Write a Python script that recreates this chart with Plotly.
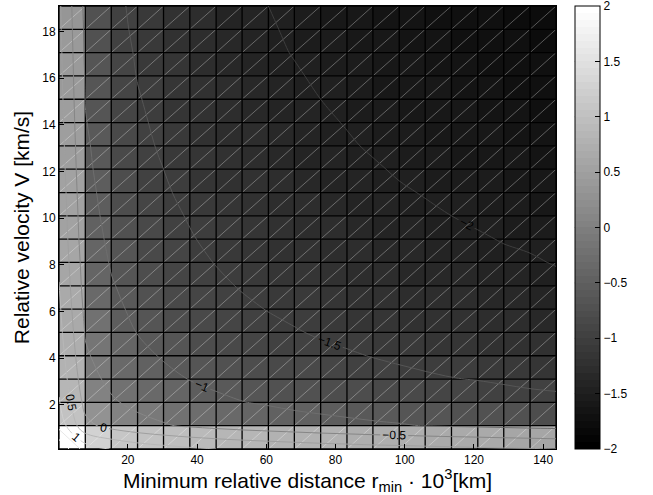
import plotly.graph_objects as go

# Grid nodes: minimum relative distance (10^3 km) and relative velocity (km/s)
r_min = [0.1, 7.7, 15.2, 22.8, 30.3, 37.9, 45.5, 53.0, 60.6, 68.1,
         75.7, 83.3, 90.8, 98.4, 105.9, 113.5, 121.1, 128.6, 136.2, 143.7]
velocity = [0.1, 1.1, 2.1, 3.1, 4.1, 5.1, 6.1, 7.1, 8.1, 9.1,
            10.1, 11.1, 12.1, 13.1, 14.1, 15.1, 16.1, 17.1, 18.1, 19.1]

# Face values of the faceted surface (one per cell, rows = velocity)
shade = [
    [2.00, 1.25, 1.10, 1.02, 0.96, 0.91, 0.87, 0.84, 0.81, 0.78, 0.76, 0.74, 0.72, 0.70, 0.68, 0.66, 0.64, 0.62, 0.60],
    [1.00, 0.25, 0.03, -0.11, -0.21, -0.29, -0.35, -0.41, -0.46, -0.50, -0.54, -0.58, -0.61, -0.64, -0.67, -0.69, -0.72, -0.74, -0.76],
    [0.85, 0.05, -0.19, -0.33, -0.43, -0.52, -0.58, -0.64, -0.69, -0.73, -0.77, -0.81, -0.84, -0.87, -0.89, -0.92, -0.94, -0.97, -0.99],
    [0.78, -0.07, -0.32, -0.47, -0.58, -0.66, -0.73, -0.78, -0.83, -0.87, -0.91, -0.95, -0.98, -1.01, -1.04, -1.06, -1.09, -1.11, -1.13],
    [0.72, -0.17, -0.43, -0.57, -0.68, -0.76, -0.83, -0.89, -0.94, -0.98, -1.02, -1.05, -1.08, -1.11, -1.14, -1.17, -1.19, -1.21, -1.23],
    [0.68, -0.25, -0.51, -0.66, -0.76, -0.84, -0.91, -0.97, -1.02, -1.06, -1.10, -1.13, -1.17, -1.20, -1.22, -1.25, -1.27, -1.29, -1.32],
    [0.64, -0.32, -0.57, -0.72, -0.83, -0.91, -0.98, -1.03, -1.08, -1.12, -1.16, -1.20, -1.23, -1.26, -1.29, -1.31, -1.34, -1.36, -1.38],
    [0.61, -0.38, -0.63, -0.78, -0.88, -0.96, -1.03, -1.09, -1.14, -1.18, -1.22, -1.26, -1.29, -1.32, -1.34, -1.37, -1.39, -1.42, -1.44],
    [0.58, -0.42, -0.68, -0.83, -0.93, -1.01, -1.08, -1.14, -1.19, -1.23, -1.27, -1.30, -1.34, -1.37, -1.39, -1.42, -1.44, -1.46, -1.49],
    [0.55, -0.47, -0.72, -0.87, -0.97, -1.06, -1.12, -1.18, -1.23, -1.27, -1.31, -1.35, -1.38, -1.41, -1.44, -1.46, -1.49, -1.51, -1.53],
    [0.53, -0.51, -0.76, -0.91, -1.01, -1.09, -1.16, -1.22, -1.27, -1.31, -1.35, -1.39, -1.42, -1.45, -1.47, -1.50, -1.52, -1.55, -1.57],
    [0.50, -0.54, -0.79, -0.94, -1.05, -1.13, -1.20, -1.25, -1.30, -1.35, -1.38, -1.42, -1.45, -1.48, -1.51, -1.53, -1.56, -1.58, -1.60],
    [0.48, -0.57, -0.83, -0.97, -1.08, -1.16, -1.23, -1.29, -1.34, -1.38, -1.42, -1.45, -1.48, -1.51, -1.54, -1.57, -1.59, -1.61, -1.63],
    [0.46, -0.60, -0.85, -1.00, -1.11, -1.19, -1.26, -1.31, -1.36, -1.41, -1.45, -1.48, -1.51, -1.54, -1.57, -1.60, -1.62, -1.64, -1.66],
    [0.44, -0.63, -0.88, -1.03, -1.14, -1.22, -1.29, -1.34, -1.39, -1.43, -1.47, -1.51, -1.54, -1.57, -1.60, -1.62, -1.65, -1.67, -1.69],
    [0.42, -0.65, -0.91, -1.06, -1.16, -1.24, -1.31, -1.37, -1.42, -1.46, -1.50, -1.53, -1.57, -1.60, -1.62, -1.65, -1.67, -1.69, -1.72],
    [0.40, -0.68, -0.93, -1.08, -1.18, -1.27, -1.33, -1.39, -1.44, -1.48, -1.52, -1.56, -1.59, -1.62, -1.65, -1.67, -1.70, -1.72, -1.74],
    [0.38, -0.70, -0.95, -1.10, -1.21, -1.29, -1.36, -1.41, -1.46, -1.51, -1.54, -1.58, -1.61, -1.64, -1.67, -1.69, -1.72, -1.74, -1.76],
    [0.36, -0.72, -0.97, -1.12, -1.23, -1.31, -1.38, -1.43, -1.48, -1.53, -1.57, -1.60, -1.63, -1.66, -1.69, -1.72, -1.74, -1.76, -1.78],
]

# Node values for the labelled iso-lines (rows = velocity, cols = r_min)
level_field = [
    [2.46, 1.27, 0.98, 0.80, 0.68, 0.58, 0.50, 0.44, 0.38, 0.33, 0.28, 0.24, 0.20, 0.17, 0.14, 0.11, 0.08, 0.05, 0.03, 0.00],
    [1.32, 0.13, -0.16, -0.34, -0.46, -0.56, -0.64, -0.71, -0.76, -0.81, -0.86, -0.90, -0.94, -0.97, -1.01, -1.04, -1.06, -1.09, -1.12, -1.14],
    [1.04, -0.15, -0.44, -0.62, -0.74, -0.84, -0.92, -0.99, -1.04, -1.10, -1.14, -1.18, -1.22, -1.26, -1.29, -1.32, -1.35, -1.37, -1.40, -1.42],
    [0.87, -0.32, -0.61, -0.79, -0.91, -1.01, -1.09, -1.16, -1.21, -1.26, -1.31, -1.35, -1.39, -1.42, -1.46, -1.49, -1.51, -1.54, -1.57, -1.59],
    [0.75, -0.44, -0.74, -0.91, -1.03, -1.13, -1.21, -1.28, -1.34, -1.39, -1.43, -1.47, -1.51, -1.55, -1.58, -1.61, -1.64, -1.66, -1.69, -1.71],
    [0.65, -0.53, -0.83, -1.01, -1.13, -1.23, -1.31, -1.37, -1.43, -1.48, -1.53, -1.57, -1.61, -1.64, -1.67, -1.70, -1.73, -1.76, -1.78, -1.81],
    [0.58, -0.61, -0.91, -1.08, -1.21, -1.30, -1.38, -1.45, -1.51, -1.56, -1.60, -1.65, -1.68, -1.72, -1.75, -1.78, -1.81, -1.83, -1.86, -1.88],
    [0.51, -0.68, -0.97, -1.15, -1.27, -1.37, -1.45, -1.52, -1.57, -1.62, -1.67, -1.71, -1.75, -1.78, -1.82, -1.85, -1.87, -1.90, -1.93, -1.95],
    [0.45, -0.73, -1.03, -1.21, -1.33, -1.43, -1.51, -1.57, -1.63, -1.68, -1.73, -1.77, -1.81, -1.84, -1.87, -1.90, -1.93, -1.96, -1.98, -2.01],
    [0.40, -0.79, -1.08, -1.26, -1.38, -1.48, -1.56, -1.62, -1.68, -1.73, -1.78, -1.82, -1.86, -1.89, -1.92, -1.95, -1.98, -2.01, -2.03, -2.06],
    [0.36, -0.83, -1.13, -1.30, -1.43, -1.52, -1.60, -1.67, -1.73, -1.78, -1.82, -1.87, -1.90, -1.94, -1.97, -2.00, -2.03, -2.05, -2.08, -2.10],
    [0.32, -0.87, -1.17, -1.34, -1.47, -1.56, -1.64, -1.71, -1.77, -1.82, -1.86, -1.91, -1.94, -1.98, -2.01, -2.04, -2.07, -2.09, -2.12, -2.14],
    [0.28, -0.91, -1.21, -1.38, -1.50, -1.60, -1.68, -1.75, -1.81, -1.86, -1.90, -1.94, -1.98, -2.02, -2.05, -2.08, -2.11, -2.13, -2.16, -2.18],
    [0.24, -0.94, -1.24, -1.42, -1.54, -1.64, -1.72, -1.78, -1.84, -1.89, -1.94, -1.98, -2.02, -2.05, -2.08, -2.11, -2.14, -2.17, -2.19, -2.21],
    [0.21, -0.98, -1.27, -1.45, -1.57, -1.67, -1.75, -1.81, -1.87, -1.92, -1.97, -2.01, -2.05, -2.08, -2.11, -2.14, -2.17, -2.20, -2.22, -2.25],
    [0.18, -1.01, -1.30, -1.48, -1.60, -1.70, -1.78, -1.84, -1.90, -1.95, -2.00, -2.04, -2.08, -2.11, -2.14, -2.17, -2.20, -2.23, -2.25, -2.28],
    [0.15, -1.03, -1.33, -1.51, -1.63, -1.73, -1.81, -1.87, -1.93, -1.98, -2.03, -2.07, -2.11, -2.14, -2.17, -2.20, -2.23, -2.26, -2.28, -2.30],
    [0.13, -1.06, -1.36, -1.53, -1.65, -1.75, -1.83, -1.90, -1.96, -2.01, -2.05, -2.09, -2.13, -2.17, -2.20, -2.23, -2.26, -2.28, -2.31, -2.33],
    [0.10, -1.08, -1.38, -1.56, -1.68, -1.78, -1.86, -1.92, -1.98, -2.03, -2.08, -2.12, -2.16, -2.19, -2.22, -2.25, -2.28, -2.31, -2.33, -2.36],
    [0.08, -1.11, -1.40, -1.58, -1.70, -1.80, -1.88, -1.95, -2.00, -2.05, -2.10, -2.14, -2.18, -2.21, -2.25, -2.28, -2.30, -2.33, -2.36, -2.38],
]

x_ticks = [20, 40, 60, 80, 100, 120, 140]
y_ticks = [2, 4, 6, 8, 10, 12, 14, 16, 18]
cbar_ticks = [-2, -1.5, -1, -0.5, 0, 0.5, 1, 1.5, 2]
c_min, c_max, c_step = -2, 2, 0.5

FONT = "Liberation Sans, Arial, Helvetica, sans-serif"

# 64-step gray colormap
n_col = 64
gray64 = []
for k in range(n_col):
    g = round(255 * k / (n_col - 1))
    c = f"rgb({g},{g},{g})"
    gray64 += [[k / n_col, c], [(k + 1) / n_col, c]]

# iso-lines use a lifted gray ramp so they stay visible on the facets
line_gray = [[0, "rgb(62,62,62)"], [1, "rgb(255,255,255)"]]

CB_X = 1.038      # colorbar left edge, paper fraction of plot width
CB_THICK = 25     # px
M_L, M_R, M_T, M_B = 59, 97, 6, 46
PLOT_W = 653 - M_L - M_R

fig = go.Figure()

fig.add_trace(go.Heatmap(
    x=r_min, y=velocity, z=shade,
    zmin=c_min, zmax=c_max, colorscale=gray64,
    hoverinfo="skip",
    colorbar=dict(
        x=CB_X, xanchor="left", y=0.5, yanchor="middle",
        len=1, lenmode="fraction", thickness=CB_THICK, thicknessmode="pixels",
        xpad=0, ypad=0, outlinecolor="black", outlinewidth=1,
        tickmode="array", tickvals=cbar_ticks,
        ticks="inside", ticklen=5, tickcolor="black",
        ticklabeloverflow="allow",
        tickfont=dict(family=FONT, size=12, color="black"),
    ),
))

# triangle edges of each facet
dxs, dys = [], []
for i in range(len(velocity) - 1):
    for j in range(len(r_min) - 1):
        dxs += [r_min[j], r_min[j + 1], None]
        dys += [velocity[i], velocity[i + 1], None]
fig.add_trace(go.Scatter(
    x=dxs, y=dys, mode="lines", hoverinfo="skip", showlegend=False,
    line=dict(color="rgba(255,255,255,0.45)", width=0.7),
))

# facet mesh
gxs, gys = [], []
for xv in r_min:
    gxs += [xv, xv, None]
    gys += [velocity[0], velocity[-1], None]
for yv in velocity:
    gxs += [r_min[0], r_min[-1], None]
    gys += [yv, yv, None]
fig.add_trace(go.Scatter(
    x=gxs, y=gys, mode="lines", hoverinfo="skip", showlegend=False,
    line=dict(color="black", width=1.3),
))

# labelled iso-lines, on an overlaid subplot so they sit above the mesh
fig.add_trace(go.Contour(
    x=r_min, y=velocity, z=level_field,
    xaxis="x2", yaxis="y2",
    zmin=c_min, zmax=c_max, colorscale=line_gray, showscale=False,
    contours=dict(coloring="lines", start=c_min, end=c_max, size=c_step,
                  showlabels=True,
                  labelfont=dict(family=FONT, size=12, color="black")),
    line=dict(width=1),
    hoverinfo="skip",
))

# tick marks on the left inner edge of the colorbar
for v in cbar_ticks[1:-1]:
    yf = (v - c_min) / (c_max - c_min)
    fig.add_shape(type="line", xref="paper", yref="paper",
                  x0=CB_X, x1=CB_X + 5 / PLOT_W, y0=yf, y1=yf,
                  line=dict(color="black", width=1))

axis_common = dict(
    ticks="inside", ticklen=5, tickcolor="black",
    showline=True, linecolor="black", linewidth=1, mirror=True,
    showgrid=False, zeroline=False,
    tickfont=dict(family=FONT, size=12, color="black"),
)

fig.update_layout(
    width=653, height=495,
    margin=dict(l=M_L, r=M_R, t=M_T, b=M_B),
    paper_bgcolor="white", plot_bgcolor="white",
    showlegend=False,
    xaxis=dict(range=[r_min[0], r_min[-1]], tickvals=x_ticks,
               title=dict(text="Minimum relative distance r<sub>min</sub> · 10<sup>3</sup>[km]",
                          font=dict(family=FONT, size=21, color="black"), standoff=0),
               **axis_common),
    yaxis=dict(range=[velocity[0], velocity[-1]], tickvals=y_ticks,
               title=dict(text="Relative velocity V [km/s]",
                          font=dict(family=FONT, size=21, color="black"), standoff=6),
               **axis_common),
    xaxis2=dict(overlaying="x", matches="x", visible=False,
                range=[r_min[0], r_min[-1]]),
    yaxis2=dict(overlaying="y", matches="y", visible=False,
                range=[velocity[0], velocity[-1]]),
)

fig.write_html("out.html")
